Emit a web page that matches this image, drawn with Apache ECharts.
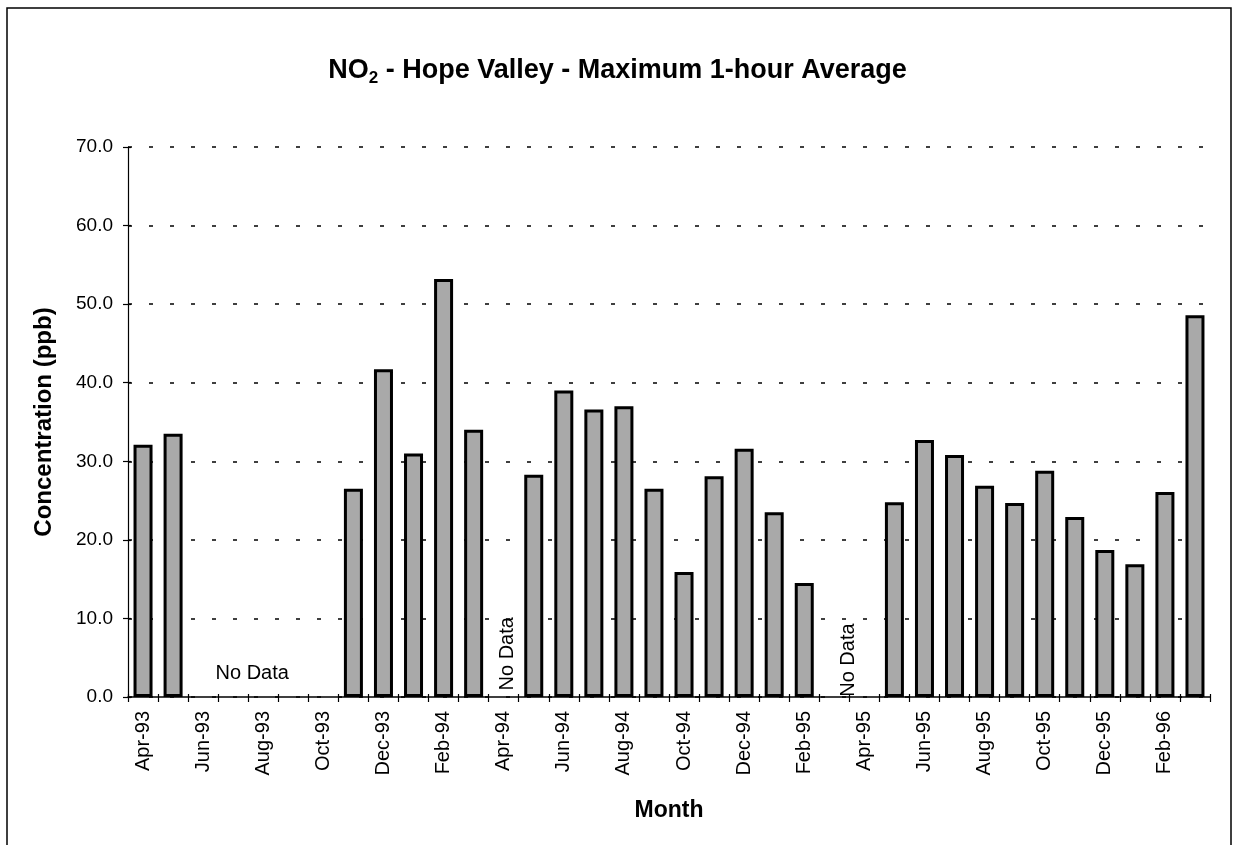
<!DOCTYPE html>
<html><head><meta charset="utf-8">
<script src="https://cdn.jsdelivr.net/npm/echarts@6/dist/echarts.min.js"></script>
<style>html,body{margin:0;padding:0;background:#fff}#c{width:1235px;height:845px}</style>
</head><body><div id="c"></div>
<script>
const months = ['Apr-93','May-93','Jun-93','Jul-93','Aug-93','Sep-93','Oct-93','Nov-93','Dec-93','Jan-94','Feb-94','Mar-94',
  'Apr-94','May-94','Jun-94','Jul-94','Aug-94','Sep-94','Oct-94','Nov-94','Dec-94','Jan-95','Feb-95','Mar-95',
  'Apr-95','May-95','Jun-95','Jul-95','Aug-95','Sep-95','Oct-95','Nov-95','Dec-95','Jan-96','Feb-96','Mar-96'];
const no2Max1h = [32.1, 33.5, null, null, null, null, null, 26.5, 41.7, 31.0, 53.2, 34.0,
  null, 28.3, 39.0, 36.6, 37.0, 26.5, 15.9, 28.1, 31.6, 23.5, 14.5, null,
  null, 24.8, 32.7, 30.8, 26.9, 24.7, 28.8, 22.9, 18.7, 16.9, 26.1, 48.6];
const yMin = 0, yMax = 70, yStep = 10;
const noDataText = 'No Data';

const FF = "'Liberation Sans', Arial, sans-serif";
const chart = echarts.init(document.getElementById('c'), null, {renderer: 'canvas'});
chart.setOption({
  backgroundColor: '#fff',
  animation: false,
  title: {
    left: 'center', top: 50,
    text: '{a|NO}{s|2}{a| - Hope Valley - Maximum 1-hour Average}',
    textStyle: {
      rich: {
        a: {fontFamily: FF, fontWeight: 'bold', fontSize: 27, color: '#000', lineHeight: 32},
        s: {fontFamily: FF, fontWeight: 'bold', fontSize: 17, color: '#000', lineHeight: 12, verticalAlign: 'bottom'}
      }
    }
  },
  graphic: [{
    type: 'rect', shape: {x: 7, y: 8, width: 1224, height: 850},
    style: {fill: 'none', stroke: '#000', lineWidth: 1.5}, silent: true
  }],
  grid: {left: 128, right: 25, top: 147, bottom: 148},
  xAxis: [{
    type: 'category', data: months, boundaryGap: true,
    axisLine: {lineStyle: {color: '#000', width: 1.5}},
    axisTick: {show: true, interval: 0, length: 5, lineStyle: {color: '#000', width: 1.2}},
    axisLabel: {interval: 1, rotate: 90, fontSize: 20, color: '#000', margin: 14, fontFamily: FF},
    name: 'Month', nameLocation: 'middle', nameGap: 102,
    nameTextStyle: {fontFamily: FF, fontWeight: 'bold', fontSize: 23, color: '#000'}
  }, {
    type: 'category', data: months, boundaryGap: true, position: 'bottom',
    axisLine: {show: false},
    axisTick: {show: true, inside: true, interval: 0, length: 3, lineStyle: {color: '#000', width: 1.2}},
    axisLabel: {show: false}, splitLine: {show: false}
  }],
  yAxis: [{
    type: 'value', min: yMin, max: yMax, interval: yStep,
    axisLine: {show: true, lineStyle: {color: '#000', width: 1.2}},
    axisTick: {show: true, length: 5, lineStyle: {color: '#000', width: 1.2}},
    splitLine: {show: true, lineStyle: {color: '#000', width: 1.6, type: [4, 17]}},
    axisLabel: {formatter: v => v.toFixed(1), fontSize: 19, color: '#000', margin: 15, fontFamily: FF},
    name: 'Concentration (ppb)', nameLocation: 'middle', nameGap: 72, nameRotate: 90,
    nameTextStyle: {fontFamily: FF, fontWeight: 'bold', fontSize: 24, color: '#000'}
  }, {
    type: 'value', min: yMin, max: yMax, interval: yStep, position: 'left',
    axisLine: {show: false},
    axisTick: {show: true, inside: true, length: 3, lineStyle: {color: '#000', width: 1.2}},
    axisLabel: {show: false}, splitLine: {show: false}
  }],
  series: [{
    type: 'bar', data: no2Max1h, barWidth: 19,
    itemStyle: {color: '#a9a9a9', borderColor: '#000', borderWidth: 3},
    markPoint: {
      symbol: 'rect', symbolSize: 1, itemStyle: {color: 'rgba(0,0,0,0)'},
      label: {show: true, formatter: noDataText, fontSize: 20, color: '#000', fontFamily: FF, position: 'inside'},
      data: [
        {coord: ['Jul-93', 3.05], label: {offset: [19, 0]}},
        {coord: ['Apr-94', 5.5], label: {rotate: 90, offset: [0, 4]}},
        {coord: ['Mar-95', 4.7], label: {rotate: 90, offset: [0, 14]}}
      ]
    }
  }]
});
</script>
</body></html>
